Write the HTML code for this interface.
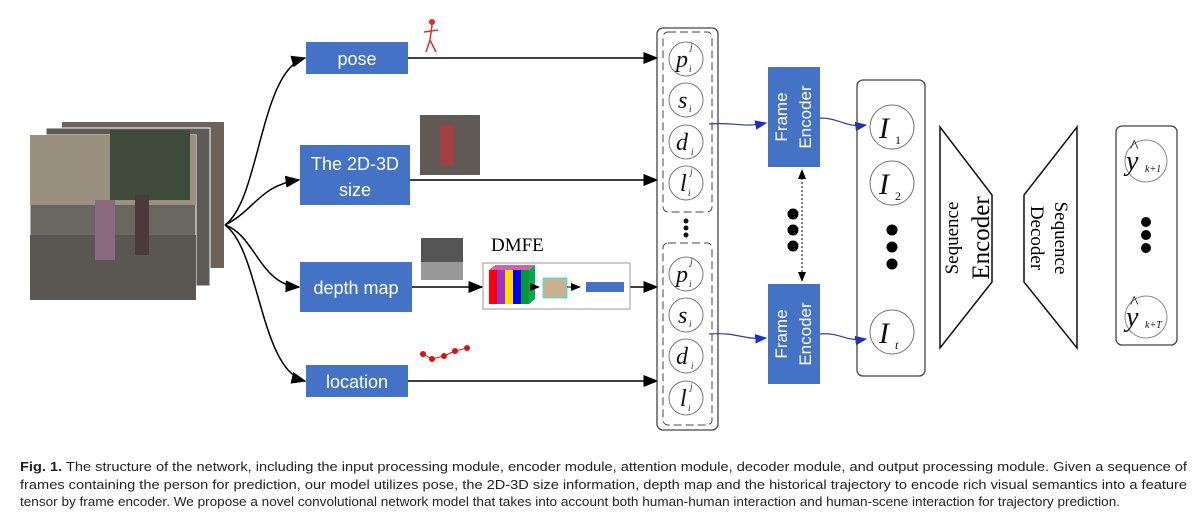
<!DOCTYPE html>
<html><head><meta charset="utf-8"><style>
body{margin:0;background:#fff;width:1203px;height:526px;overflow:hidden;font-family:"Liberation Sans",sans-serif}
</style></head><body>
<svg width="1203" height="526" style="position:absolute;left:0;top:0" font-family="Liberation Serif, serif">
<defs>
<marker id="a" markerWidth="10" markerHeight="8" refX="9" refY="4" orient="auto"><path d="M0,0L10,4L0,8z" fill="#000"/></marker>
<marker id="b" markerWidth="10" markerHeight="8" refX="9" refY="4" orient="auto"><path d="M0,0L10,4L0,8z" fill="#1a2fd0"/></marker>
<marker id="c" markerWidth="10" markerHeight="8" refX="9" refY="4" orient="auto-start-reverse"><path d="M0,0L10,4L0,8z" fill="#000"/></marker>
</defs>
<!-- photos -->
<rect x="62" y="122" width="162" height="146" fill="#6b6258"/>
<rect x="46" y="128" width="164" height="158" fill="#5d5a55" stroke="#fff"/>
<rect x="30" y="135" width="166" height="165" fill="#6a6660" stroke="#fff"/>
<rect x="30" y="135" width="166" height="70" fill="#9a9080"/>
<rect x="110" y="130" width="80" height="70" fill="#3e4a3a"/>
<rect x="30" y="235" width="166" height="65" fill="#5a5753"/>
<rect x="95" y="200" width="20" height="60" fill="#8a6a80"/>
<rect x="135" y="195" width="14" height="60" fill="#4a3a3a"/>
<!-- curves -->
<g fill="none" stroke="#000" stroke-width="1.5" marker-end="url(#a)">
<path d="M225,225 C260,200 260,70 305,58"/>
<path d="M225,225 C255,210 260,185 299,180"/>
<path d="M225,225 C255,235 260,285 299,287"/>
<path d="M225,225 C260,250 260,370 305,381"/>
<path d="M408,58 L657,58"/>
<path d="M410,180 L657,180"/>
<path d="M412,287 L482,287"/>
<path d="M630,287 L657,287"/>
<path d="M408,381 L657,381"/>
</g>
<!-- blue boxes -->
<g fill="#4472c4">
<rect x="306" y="42" width="102" height="32"/>
<rect x="300" y="145" width="110" height="60"/>
<rect x="300" y="262" width="112" height="50"/>
<rect x="306" y="365" width="102" height="32"/>
<rect x="768" y="67" width="52" height="100"/>
<rect x="768" y="284" width="52" height="100"/>
</g>
<g fill="#fff" font-family="Liberation Sans, sans-serif" font-size="18" text-anchor="middle">
<text x="357" y="65">pose</text>
<text x="355" y="170">The 2D-3D</text>
<text x="355" y="196">size</text>
<text x="356" y="294">depth map</text>
<text x="357" y="388">location</text>
<text transform="translate(787,117) rotate(-90)" font-size="17">Frame</text>
<text transform="translate(811,117) rotate(-90)" font-size="17">Encoder</text>
<text transform="translate(787,334) rotate(-90)" font-size="17">Frame</text>
<text transform="translate(811,334) rotate(-90)" font-size="17">Encoder</text>
</g>
<!-- small images -->
<g stroke="#c33" stroke-width="1.5" fill="none"><path d="M432,25 L430,40 L426,52 M430,40 L436,52 M424,32 L438,30"/></g>
<circle cx="432" cy="22" r="3" fill="#c33"/>
<rect x="420" y="115" width="60" height="60" fill="#5f5a55"/>
<rect x="440" y="125" width="14" height="40" fill="#a04040"/>
<rect x="421" y="238" width="42" height="42" fill="#555"/>
<rect x="421" y="262" width="42" height="18" fill="#999"/>
<g fill="#d11"><circle cx="423" cy="354" r="3"/><circle cx="432" cy="359" r="3"/><circle cx="444" cy="356" r="3"/><circle cx="455" cy="351" r="3"/><circle cx="467" cy="348" r="3"/></g>
<path d="M423,354 L432,359 L444,356 L455,351 L467,348" stroke="#d11" fill="none"/>
<!-- DMFE -->
<text x="491" y="251" font-size="19">DMFE</text>
<rect x="483" y="263" width="147" height="46" fill="#fff" stroke="#999"/>
<rect x="489" y="270" width="8" height="34" fill="#f00"/>
<rect x="497" y="270" width="8" height="34" fill="#9933cc"/>
<rect x="505" y="270" width="8" height="34" fill="#ffdd00"/>
<rect x="513" y="270" width="8" height="34" fill="#0000ee"/>
<rect x="521" y="270" width="8" height="34" fill="#009933"/>
<path d="M489,270 L495,265 L535,265 L529,270z" fill="#cc66aa"/>
<path d="M529,270 L535,265 L535,299 L529,304z" fill="#00aa55"/>
<path d="M531,287 L539,287" stroke="#000" marker-end="url(#a)"/>
<rect x="543" y="278" width="24" height="20" fill="#c8b090" stroke="#3ee"/>
<path d="M567,287 L580,287" stroke="#000" marker-end="url(#a)"/>
<rect x="586" y="282" width="38" height="10" fill="#4472c4"/>
<!-- column -->
<rect x="657" y="28" width="61" height="402" rx="6" fill="none" stroke="#444" stroke-width="1.3"/>
<rect x="663" y="32" width="49" height="180" rx="5" fill="none" stroke="#444" stroke-dasharray="8,4"/>
<rect x="663" y="243" width="49" height="182" rx="5" fill="none" stroke="#444" stroke-dasharray="8,4"/>
<g fill="#111"><circle cx="686" cy="221" r="2.5"/><circle cx="686" cy="228" r="2.5"/><circle cx="686" cy="235" r="2.5"/></g>
<g fill="#fff" stroke="#777">
<circle cx="686" cy="59" r="17"/><circle cx="686" cy="100" r="17"/><circle cx="686" cy="142" r="17"/><circle cx="686" cy="183" r="17"/>
<circle cx="686" cy="274" r="17"/><circle cx="686" cy="315" r="17"/><circle cx="686" cy="356" r="17"/><circle cx="686" cy="398" r="17"/>
</g>
<g font-size="24" font-style="italic" fill="#111">
<text x="676" y="67">p</text><text x="678" y="108">s</text><text x="676" y="150">d</text><text x="680" y="191">l</text>
<text x="676" y="282">p</text><text x="678" y="323">s</text><text x="676" y="364">d</text><text x="680" y="406">l</text>
</g>
<g font-size="9" font-style="italic" fill="#111">
<text x="689" y="72">i</text><text x="690" y="50">j</text><text x="689" y="112">i</text><text x="691" y="155">i</text><text x="688" y="196">i</text><text x="690" y="175">j</text>
<text x="689" y="287">i</text><text x="690" y="265">j</text><text x="689" y="327">i</text><text x="691" y="369">i</text><text x="688" y="411">i</text><text x="690" y="390">j</text>
</g>
<!-- blue connectors -->
<g fill="none" stroke="#3a3a8a" stroke-width="1.2" marker-end="url(#b)">
<path d="M709,124 C740,122 740,128 766,123"/>
<path d="M820,118 C840,118 845,128 866,125"/>
<path d="M709,334 C740,332 740,340 766,338"/>
<path d="M820,334 C840,332 845,342 866,339"/>
</g>
<path d="M802,170 L802,281" stroke="#000" stroke-dasharray="2,2" fill="none" marker-start="url(#c)" marker-end="url(#c)"/>
<g fill="#000"><circle cx="793" cy="214" r="5.5"/><circle cx="793" cy="230" r="5.5"/><circle cx="793" cy="246" r="5.5"/></g>
<!-- I column -->
<rect x="857" y="80" width="68" height="296" rx="6" fill="none" stroke="#444" stroke-width="1.3"/>
<g fill="#fff" stroke="#777"><circle cx="892" cy="127" r="22"/><circle cx="892" cy="183" r="22"/><circle cx="892" cy="332" r="22"/></g>
<g font-size="30" font-style="italic" fill="#111"><text x="879" y="138">I</text><text x="879" y="194">I</text><text x="879" y="343">I</text></g>
<g font-size="12" fill="#111"><text x="895" y="144">1</text><text x="895" y="200">2</text><text x="895" y="349" font-style="italic">t</text></g>
<g fill="#000"><circle cx="892" cy="230" r="5.5"/><circle cx="892" cy="247" r="5.5"/><circle cx="892" cy="264" r="5.5"/></g>
<!-- trapezoids -->
<path d="M940,127 L992,195 L992,282 L940,348 Z" fill="#fff" stroke="#111" stroke-width="1.5"/>
<path d="M1077,127 L1024,195 L1024,282 L1077,348 Z" fill="#fff" stroke="#111" stroke-width="1.5"/>
<text transform="translate(958,238) rotate(-90)" text-anchor="middle" font-size="19">Sequence</text>
<text transform="translate(989,238) rotate(-90)" text-anchor="middle" font-size="25">Encoder</text>
<text transform="translate(1055,238) rotate(90)" text-anchor="middle" font-size="19">Sequence</text>
<text transform="translate(1031,238) rotate(90)" text-anchor="middle" font-size="19">Decoder</text>
<!-- outputs -->
<rect x="1116" y="126" width="61" height="219" rx="6" fill="none" stroke="#444" stroke-width="1.3"/>
<g fill="#fff" stroke="#888"><circle cx="1146" cy="161" r="21"/><circle cx="1146" cy="317" r="21"/></g>
<g font-size="28" font-style="italic" fill="#111"><text x="1126" y="170">y</text><text x="1126" y="326">y</text></g>
<g font-size="18" fill="#111"><text x="1130" y="152">^</text><text x="1130" y="308">^</text></g>
<g font-size="10" font-style="italic" fill="#111"><text x="1145" y="172">k+1</text><text x="1145" y="328">k+T</text></g>
<g fill="#000"><circle cx="1146" cy="222" r="5"/><circle cx="1146" cy="235" r="5"/><circle cx="1146" cy="248" r="5"/></g>
<!-- caption -->
<g font-family="Liberation Sans, sans-serif" font-size="12.5" fill="#222">
<text x="20" y="471" textLength="1167" lengthAdjust="spacingAndGlyphs"><tspan font-weight="bold">Fig. 1.</tspan> The structure of the network, including the input processing module, encoder module, attention module, decoder module, and output processing module. Given a sequence of</text>
<text x="20" y="489" textLength="1167" lengthAdjust="spacingAndGlyphs">frames containing the person for prediction, our model utilizes pose, the 2D-3D size information, depth map and the historical trajectory to encode rich visual semantics into a feature</text>
<text x="20" y="506" textLength="1100" lengthAdjust="spacingAndGlyphs">tensor by frame encoder. We propose a novel convolutional network model that takes into account both human-human interaction and human-scene interaction for trajectory prediction.</text>
</g>
</svg>
</body></html>
